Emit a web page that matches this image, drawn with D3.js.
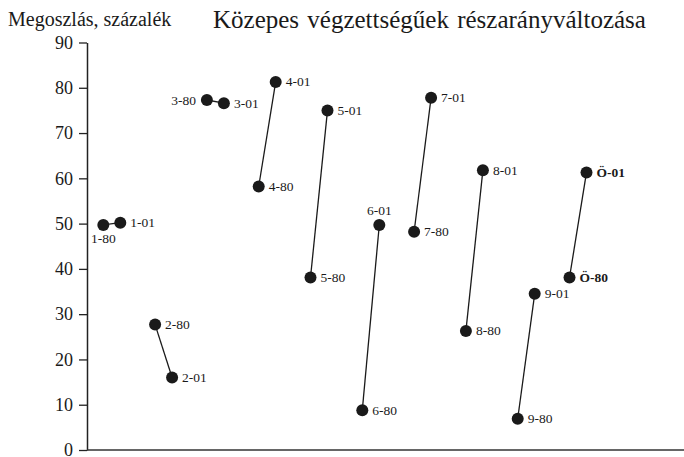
<!DOCTYPE html>
<html>
<head>
<meta charset="utf-8">
<script src="https://cdn.jsdelivr.net/npm/d3@7"></script>
<style>
  body { margin: 0; background: #fff; }
  svg text { font-family: "Liberation Serif", "DejaVu Serif", serif; fill: #1a1a1a; }
</style>
</head>
<body>
<svg id="chart" width="684" height="457"></svg>
<script>
// categories and values (percent), 1980 and 2001
var categories = ["1", "2", "3", "4", "5", "6", "7", "8", "9", "Ö"];
var values80 = [49.7, 27.7, 77.3, 58.2, 38.1, 8.8, 48.2, 26.3, 6.9, 38.1];
var values01 = [50.2, 16.0, 76.6, 81.3, 75.0, 49.7, 77.8, 61.8, 34.5, 61.3];
var yTicks = [0, 10, 20, 30, 40, 50, 60, 70, 80, 90];

// where a label goes if not to the right of the dot
var labelPlace = { "1-80": "below", "3-80": "left", "6-01": "above" };

let svg = d3.select("svg#chart"),
  margin = { top: 42.5, right: 0, bottom: 7, left: 87 },
  width = +svg.attr("width") - margin.left - margin.right,
  height = +svg.attr("height") - margin.top - margin.bottom;

let xScale = d3.scaleBand().domain(categories).range([16.3, 499.5])
    .paddingInner(0.672).paddingOuter(0),
  yScale = d3.scaleLinear().domain([0, 90]).range([height, 0]);

let g = svg.append("g")
  .attr("transform", "translate(" + margin.left + "," + margin.top + ")");

// titles
svg.append("text").attr("x", 8).attr("y", 26)
  .style("font-size", "20px").text("Megoszlás, százalék");
svg.append("text").attr("x", 213).attr("y", 28)
  .style("font-size", "25px").style("word-spacing", "2px")
  .text("Közepes végzettségűek részarányváltozása");

// y axis
let yAxis = g.append("g")
  .call(d3.axisLeft(yScale).tickValues(yTicks).tickSize(8).tickSizeOuter(0).tickPadding(6));
yAxis.select(".domain").attr("stroke", "#222").attr("stroke-width", 1.5);
yAxis.selectAll(".tick line").attr("stroke", "#222").attr("stroke-width", 1.3);
yAxis.selectAll(".tick text")
  .style("font-family", '"Liberation Serif", serif')
  .style("font-size", "18px").attr("fill", "#1a1a1a");

// x baseline
g.append("line")
  .attr("x1", 0).attr("x2", width)
  .attr("y1", yScale(0)).attr("y2", yScale(0))
  .attr("stroke", "#333").attr("stroke-width", 1.5);

let data = categories.map(function (c, i) {
  return { cat: c, v80: values80[i], v01: values01[i] };
});

let x80 = function (d) { return xScale(d.cat); };
let x01 = function (d) { return xScale(d.cat) + xScale.bandwidth(); };

// connecting lines
g.selectAll(".pair")
  .data(data)
  .enter()
  .append("line")
  .attr("class", "pair")
  .attr("x1", x80).attr("y1", function (d) { return yScale(d.v80); })
  .attr("x2", x01).attr("y2", function (d) { return yScale(d.v01); })
  .attr("stroke", "#1a1a1a").attr("stroke-width", 1.3);

// points
let points = [];
data.forEach(function (d) {
  points.push({ cat: d.cat, label: d.cat + "-80", x: x80(d), v: d.v80 });
  points.push({ cat: d.cat, label: d.cat + "-01", x: x01(d), v: d.v01 });
});

g.selectAll(".dot")
  .data(points)
  .enter()
  .append("circle")
  .attr("class", "dot")
  .attr("cx", function (d) { return d.x; })
  .attr("cy", function (d) { return yScale(d.v); })
  .attr("r", 6)
  .attr("fill", "#1a1a1a");

g.selectAll(".lbl")
  .data(points)
  .enter()
  .append("text")
  .attr("class", "lbl")
  .style("font-size", "13.5px")
  .style("font-weight", function (d) { return d.cat == "Ö" ? "bold" : "normal"; })
  .attr("dominant-baseline", "central")
  .attr("text-anchor", function (d) {
    let p = labelPlace[d.label];
    if (p == "left") return "end";
    if (p == "above" || p == "below") return "middle";
    return "start";
  })
  .attr("x", function (d) {
    let p = labelPlace[d.label];
    if (p == "left") return d.x - 11;
    if (p == "above" || p == "below") return d.x;
    return d.x + 10;
  })
  .attr("y", function (d) {
    let p = labelPlace[d.label];
    let y = yScale(d.v);
    if (p == "above") return y - 14;
    if (p == "below") return y + 14;
    return y;
  })
  .text(function (d) { return d.label; });
</script>
</body>
</html>
